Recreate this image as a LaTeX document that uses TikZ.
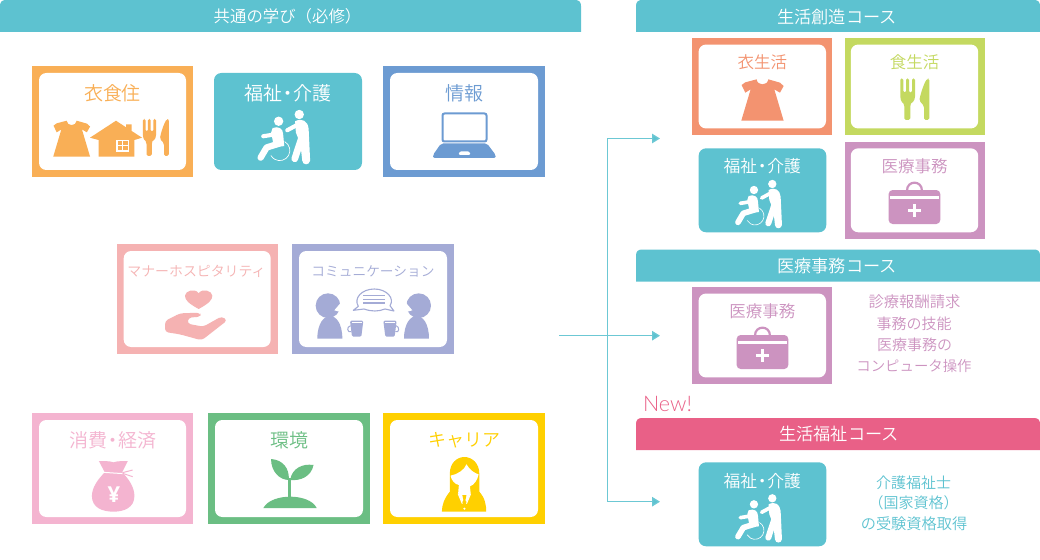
\documentclass[tikz,border=0pt]{standalone}
\usepackage{fontspec}
\usetikzlibrary{arrows.meta}
\setmainfont{Open Sans}
\newfontfamily\jp{Noto Sans CJK JP}[UprightFont={* DemiLight}]
\newfontfamily\lightlatin{Lato}[UprightFont={* Light}]
\def\uu{0.75pt}
\newcommand\px[1]{\fontsize{\fpeval{#1*0.75}}{\fpeval{#1*0.9}}\selectfont}
\definecolor{tealb}{HTML}{5DC2D0}
\definecolor{lineteal}{HTML}{6CC8D4}
\definecolor{orangeb}{HTML}{F9AF56}
\definecolor{blueb}{HTML}{6C9BD2}
\definecolor{salmon}{HTML}{F5B2B2}
\definecolor{peri}{HTML}{A4ABD6}
\definecolor{pinkb}{HTML}{F4B4D0}
\definecolor{greenb}{HTML}{6BBE83}
\definecolor{yellowb}{HTML}{FFD000}
\definecolor{coral}{HTML}{F39370}
\definecolor{lime}{HTML}{C4D960}
\definecolor{purp}{HTML}{CC93C0}
\definecolor{crimson}{HTML}{E96087}
\tikzset{
  outerbox/.style={inner sep=0pt,outer sep=0pt,draw=none},
  innerbox/.style={inner sep=0pt,outer sep=0pt,fill=white,rounded corners=5.5pt},
  solidbox/.style={inner sep=0pt,outer sep=0pt,fill=tealb,rounded corners=5.5pt},
  lab/.style={inner sep=0pt,font=\jp},
  headtext/.style={inner sep=0pt,font=\jp\px{16},text=white},
  conn/.style={draw=lineteal,line width=1.3*\uu},
  connarrow/.style={conn,-{Triangle[length=8*\uu,width=9.5*\uu,fill=tealb]}},
}
% name, cx, cy, w, h, colour, frame
\newcommand\cbox[7]{%
  \node[outerbox,fill=#6,minimum width=#4*\uu,minimum height=#5*\uu] (#1) at (#2,#3) {};
  \node[innerbox,minimum width=(#4-2*#7)*\uu,minimum height=(#5-2*#7)*\uu] (#1in) at (#2,#3) {};
}
\newcommand\solidcard[5]{%
  \node[solidbox,minimum width=#4*\uu,minimum height=#5*\uu] (#1) at (#2,#3) {};
}
\newcommand\headbar[5]{%
  \fill[#5] (#2,#4+32) -- (#2,#4+6) .. controls (#2,#4+2) and (#2+2,#4) .. (#2+6,#4) -- (#3-6,#4) .. controls (#3-2,#4) and (#3,#4+2) .. (#3,#4+6) -- (#3,#4+32) -- cycle;
}
\newcommand\careicon[3]{%
 \begin{scope}[shift={(#1,#2)},scale=#3/3,shift={(-475,-612)},white,line cap=round,line join=round]
  \fill (462,570) circle[radius=12.5];
  \fill (517,552) circle[radius=12.5];
  \fill (446,588) .. controls (462,582) and (474,590) .. (474,604) -- (477,636) -- (450,640) -- (442,600) -- cycle;
  \draw[line width=#3*11/3*\uu] (421,610) -- (452,605);
  \draw[line width=#3*17/3*\uu] (462,630) -- (430,640) -- (414,667);
  \draw[line width=#3*1.8/3*\uu] (478.5,624.6) arc[start angle=-60,end angle=150,radius=27];
  \draw[line width=#3*11/3*\uu] (522,574) -- (485,594);
  \fill (506,570) .. controls (525,560) and (540,570) .. (542,590) -- (546,675) .. controls (544,688) and (526,688) .. (525,675) -- (520,630) -- (508,600) -- cycle;
  \draw[line width=#3*18/3*\uu] (524,612) -- (505,670);
 \end{scope}}
\newcommand\dressicon[4]{%
 \begin{scope}[shift={(#1,#2)},scale=#3/3,shift={(-487,-300)}]
  \fill[#4] (470,238) .. controls (472,258) and (503,258) .. (505,238) -- (540,248) -- (551,258) -- (540,278) -- (523,268) -- (551,362) -- (424,362) -- (452,268) -- (436,278) -- (425,255) -- (436,247) -- cycle;
 \end{scope}}
\newcommand\forkicon[4]{%
 \begin{scope}[shift={(#1,#2)},scale=#3/3,shift={(-945,-298)}]
  \fill[#4,rounded corners=1.2pt] (901,235) -- (910,235) -- (910,278) -- (918,278) -- (918,235) -- (927,235) -- (927,278) -- (936,278) -- (936,235) -- (945,235) -- (945,285) .. controls (945,305) and (933,310) .. (931,315) -- (931,360) -- (913,360) -- (913,315) .. controls (910,310) and (901,305) .. (901,285) -- cycle;
  \fill[#4,rounded corners=1.2pt] (988,236) -- (988,360) -- (972,360) -- (972,318) -- (958,302) .. controls (962,280) and (972,250) .. (982,236) -- cycle;
 \end{scope}}
\newcommand\medbag[3]{%
 \begin{scope}[shift={(#1,#2)},scale=1/3,shift={(-943,-621)}]
  \draw[#3,line width=2.2*\uu] (921,572) .. controls (921,540) and (966,540) .. (966,572);
  \fill[#3,rounded corners=3pt] (866,570) rectangle (1021,672);
  \fill[white] (871,589) rectangle (1017,596);
  \fill[white] (923,627) rectangle (963,637);
  \fill[white] (938,612) rectangle (948,652);
 \end{scope}}
\begin{document}
\begin{tikzpicture}[x=0.75pt,y=-0.75pt]
\useasboundingbox (0,0) rectangle (1040,560);
% headers
\headbar{h1}{0}{581}{0}{tealb}
\headbar{h2}{636}{1040}{0}{tealb}
\headbar{h3}{636}{1040}{249.5}{tealb}
\headbar{h4}{636}{1040}{418}{crimson}
\node[headtext,font=\jp\px{16.4}] (h1t) at (287.5,16.5) {共通の学び（必修）};
\node[headtext,font=\jp\px{17.2}] (h2t) at (837,17) {生活創造コース};
\node[headtext,font=\jp\px{17.2}] (h3t) at (837,266) {医療事務コース};
\node[headtext,font=\jp\px{17.2}] (h4t) at (839,434) {生活福祉コース};
\node[inner sep=0pt,text=crimson,font=\lightlatin\px{21.5}] (new) at (667.5,404) {New!};
% left top
\cbox{a}{112.5}{121.5}{161}{111}{orangeb}{7}
\solidcard{b}{288}{121.5}{148}{97}
\cbox{c}{464}{121.5}{162}{111}{blueb}{7}
\node[lab,text=orangeb,font=\jp\px{19}] (at) at (112.5,93) {衣食住};
\node[lab,text=white,font=\jp\px{19}] (bt) at (288,93) {福祉\kern-3pt・\kern-3pt介護};
\node[lab,text=blueb,font=\jp\px{19}] (ct) at (464.5,93) {情報};
\dressicon{71.5}{138.7}{0.87}{orangeb}
\fill[orangeb] (98.6,156.7) -- (98.6,140) -- (90,137.7) -- (116,120.7) -- (126,127.3) -- (126,124.3) -- (131.7,124.3) -- (131.7,131) -- (142,137.7) -- (134.4,140) -- (134.4,156.7) -- cycle;
\draw[white,line width=1.1*\uu] (117,140.7) rectangle (128.7,151) (122.85,140.7) -- (122.85,151) (117,145.85) -- (128.7,145.85);
\forkicon{156}{137.5}{0.89}{orangeb}
\careicon{283.5}{137}{1.125}
% laptop
\draw[blueb,line width=2*\uu,rounded corners=1.5pt] (442.5,113.5) rectangle (486.5,141.5);
\fill[blueb,rounded corners=1.5pt] (441,143.5) -- (487,143.5) -- (495.7,155) -- (495.7,158) -- (433,158) -- (433,155) -- cycle;
\fill[white,rounded corners=1pt] (458.5,155) -- (459.5,151.5) -- (469.5,151.5) -- (470.5,155) -- cycle;
% middle row
\cbox{d}{197.2}{299}{161}{110}{salmon}{7}
\cbox{e}{373}{299}{162}{110}{peri}{7}
\node[lab,text=salmon,font=\jp\px{13.9}] (dt) at (196.5,271) {マナーホスピタリティ};
\node[lab,text=peri,font=\jp\px{13.7}] (et) at (373,271) {コミュニケーション};
\begin{scope}[shift={(100,235)},scale=1/3]
  \fill[salmon] (296,222) .. controls (265,205) and (255,195) .. (255,182) .. controls (255,168) and (285,158) .. (296,175) .. controls (307,158) and (337,168) .. (337,182) .. controls (337,195) and (327,205) .. (296,222) -- cycle;
  \fill[salmon,rounded corners=2.5pt] (195,258) -- (240,235) -- (300,233) -- (303,245) -- (265,248) -- (262,266) -- (310,275) -- (365,244) -- (382,256) -- (305,316) -- (240,298) -- (195,291) -- cycle;
\end{scope}
\begin{scope}[shift={(100,235)},scale=1/3]
  \fill[peri] (684,212) circle[radius=37];
  \fill[white] (725,200) -- (703,226) -- (725,232) -- cycle;
  \fill[peri] (652,311) .. controls (652,265) and (672,243) .. (690,243) .. controls (708,243) and (727,265) .. (727,311) -- cycle;
  \fill[peri] (956,212) circle[radius=37];
  \fill[white] (915,200) -- (937,226) -- (915,232) -- cycle;
  \fill[peri] (912,311) .. controls (912,265) and (932,243) .. (950,243) .. controls (968,243) and (987,265) .. (987,311) -- cycle;
  \draw[peri,line width=1.1*\uu,line join=round] (775,214) -- (760,226) -- (792,222) .. controls (815,230) and (835,230) .. (855,222) -- (882,228) -- (870,212) .. controls (885,190) and (860,162) .. (823,162) .. controls (785,162) and (760,190) .. (775,214) -- cycle;
  \draw[peri,line width=1.1*\uu] (790,182) -- (855,182) (790,193) -- (855,193) (790,204) -- (855,204);
  \fill[peri,rounded corners=1pt] (750,257) -- (790,257) -- (784,305) -- (756,305) -- cycle;
  \draw[peri,line width=1*\uu] (752,272) .. controls (738,275) and (742,295) .. (754,290);
  \fill[peri,rounded corners=1pt] (850,257) -- (890,257) -- (884,305) -- (856,305) -- cycle;
  \draw[peri,line width=1*\uu] (888,272) .. controls (900,275) and (898,295) .. (886,290);
  \draw[white,line width=1*\uu] (755,263) -- (785,263) (855,263) -- (885,263);
\end{scope}
% bottom row
\cbox{f}{112.5}{468.5}{161}{111}{pinkb}{7}
\cbox{g}{289}{468.5}{162}{111}{greenb}{7}
\cbox{h}{464}{468.5}{162}{111}{yellowb}{7}
\node[lab,text=pinkb,font=\jp\px{19}] (ft) at (112.5,440) {消費\kern-3pt・\kern-3pt経済};
\node[lab,text=greenb,font=\jp\px{19}] (gt) at (289,440) {環境};
\node[lab,text=yellowb,font=\jp\px{18}] (ht) at (464,440) {キャリア};
% money bag
\begin{scope}[shift={(113.5,486)},xscale=1/2.87,yscale=1/3,shift={(-270,-245)}]
  \fill[pinkb] (228,170) .. controls (240,172) and (255,168) .. (270,174) .. controls (285,168) and (300,172) .. (311,170) -- (295,204) .. controls (315,225) and (330,250) .. (330,275) .. controls (330,310) and (300,322) .. (270,322) .. controls (238,322) and (208,310) .. (208,275) .. controls (208,250) and (225,225) .. (245,204) -- cycle;
  \draw[white,line width=1*\uu] (240,204) -- (300,208);
  \draw[pinkb,line width=1*\uu] (296,205) -- (325,197) (296,207) -- (325,217);
\end{scope}
\node[inner sep=0pt,text=white,font=\bfseries\px{22}] (yen) at (114,494.5) {¥};
% sprout
\begin{scope}[shift={(289.5,405)},xscale=1/2.87,yscale=1/3,shift={(-778,0)}]
  \fill[greenb] (725,162) .. controls (760,165) and (778,190) .. (776,225) .. controls (750,225) and (725,200) .. (725,162) -- cycle;
  \fill[greenb] (847,180) .. controls (815,175) and (785,190) .. (780,225) .. controls (810,228) and (840,215) .. (847,180) -- cycle;
  \fill[greenb] (775,220) rectangle (782,280);
  \fill[greenb] (703,309) .. controls (715,285) and (750,275) .. (780,275) .. controls (810,275) and (845,285) .. (856,309) -- cycle;
\end{scope}
% woman
\begin{scope}[shift={(464.4,405)},xscale=1/2.887,yscale=1/3,shift={(-1290,0)}]
  \fill[yellowb] (1248,260) -- (1248,205) .. controls (1248,175) and (1268,156) .. (1290,156) .. controls (1312,156) and (1333,175) .. (1333,205) -- (1333,260) .. controls (1350,280) and (1353,300) .. (1353,320) -- (1225,320) .. controls (1225,300) and (1232,280) .. (1248,260) -- cycle;
  \fill[white] (1250,212) .. controls (1270,208) and (1290,195) .. (1296,178) .. controls (1305,195) and (1320,205) .. (1331,208) .. controls (1328,225) and (1318,240) .. (1306,244) -- (1308,264) -- (1298,290) -- (1282,290) -- (1272,264) -- (1274,240) .. controls (1262,238) and (1252,225) .. (1250,212) -- cycle;
  \fill[yellowb] (1284,270) -- (1296,270) -- (1293,285) -- (1296,298) -- (1290,306) -- (1284,298) -- (1287,285) -- cycle;
  \draw[white,line width=1*\uu] (1272,266) -- (1284,296) (1308,266) -- (1296,296);
  \fill[white] (1290,311) circle[radius=3.5];
\end{scope}
% right
\cbox{i}{762.3}{86.5}{140}{96.5}{coral}{6.3}
\cbox{j}{914.5}{86.5}{140}{96.5}{lime}{6.3}
\solidcard{k}{762.5}{190.3}{127.6}{84}
\cbox{l}{914.5}{190.3}{140}{96.5}{purp}{6.3}
\node[lab,text=coral,font=\jp\px{16.5}] (it) at (762.3,62) {衣生活};
\node[lab,text=lime,font=\jp\px{16.5}] (jt) at (914.5,62) {食生活};
\node[lab,text=white,font=\jp\px{16.8}] (kt) at (762.3,166) {福祉\kern-2.5pt・\kern-2.5pt介護};
\node[lab,text=purp,font=\jp\px{16.5}] (lt) at (914.5,166) {医療事務};
\dressicon{762.3}{100}{1}{coral}
\forkicon{915}{99.3}{1}{lime}
\careicon{758.3}{204}{1}
\medbag{914.3}{207}{purp}
\cbox{m}{762.3}{335.5}{140}{96.5}{purp}{6.3}
\node[lab,text=purp,font=\jp\px{16.5}] (mt) at (762.3,311) {医療事務};
\medbag{762.3}{352}{purp}
\node[lab,text=purp,font=\jp\px{15.3}] (t1) at (914.5,302) {診療報酬請求};
\node[lab,text=purp,font=\jp\px{15}] (t2) at (914,324) {事務の技能};
\node[lab,text=purp,font=\jp\px{15}] (t3) at (914.5,345) {医療事務の};
\node[lab,text=purp,font=\jp\px{14.4}] (t4) at (914,366) {コンピュータ操作};
\solidcard{n}{762.5}{504.3}{127.6}{84}
\node[lab,text=white,font=\jp\px{16.8}] (nt) at (762.3,480.7) {福祉\kern-2.5pt・\kern-2.5pt介護};
\careicon{758.3}{518.3}{1}
\node[lab,text=tealb,font=\jp\px{15}] (u1) at (913.5,483) {介護福祉士};
\node[lab,text=tealb,font=\jp\px{15}] (u2) at (913.5,503) {（国家資格）};
\node[lab,text=tealb,font=\jp\px{15.2}] (u3) at (914,524) {の受験資格取得};
% connectors
\coordinate (src) at (559,335.7);
\coordinate (jtop) at (607.7,138.5);
\coordinate (jbot) at (607.7,501.7);
\coordinate (endA) at (660,138.5);
\coordinate (endB) at (660,335.7);
\coordinate (endC) at (660,501.7);
\draw[connarrow] (jtop) -- (endA);
\draw[connarrow] (src) -- (endB);
\draw[connarrow] (jbot) -- (endC);
\draw[conn,line cap=rect] (jtop) -- (jbot);
\end{tikzpicture}
\end{document}
